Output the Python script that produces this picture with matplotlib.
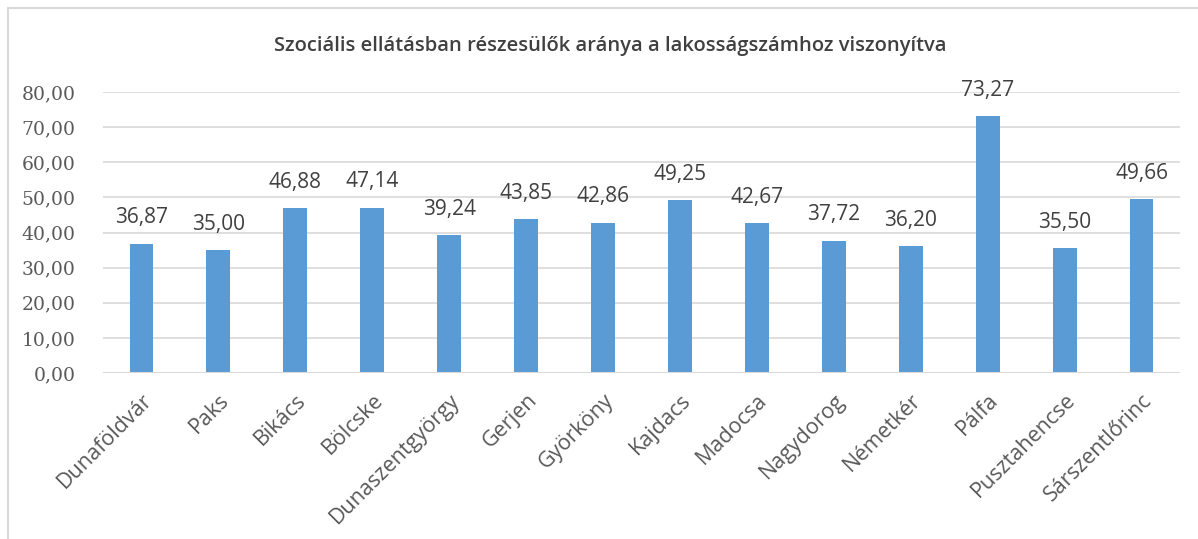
import matplotlib.pyplot as plt
from matplotlib.patches import Rectangle

telepulesek = ['Dunaföldvár', 'Paks', 'Bikács', 'Bölcske', 'Dunaszentgyörgy', 'Gerjen',
               'Györköny', 'Kajdacs', 'Madocsa', 'Nagydorog', 'Németkér', 'Pálfa',
               'Pusztahencse', 'Sárszentlőrinc']
aranyok = [36.87, 35.00, 46.88, 47.14, 39.24, 43.85, 42.86, 49.25, 42.67, 37.72,
           36.20, 73.27, 35.50, 49.66]
y_ticks = [0, 10, 20, 30, 40, 50, 60, 70, 80]

def hu(v):
    return ('%.2f' % v).replace('.', ',')

fig = plt.figure(figsize=(11.98, 5.39), dpi=100)
fig.patches.append(Rectangle((8 / 1198, -0.1), 1.2, (539 - 8) / 539 + 0.1,
                             transform=fig.transFigure, fill=False,
                             edgecolor='#d9d9d9', linewidth=1.5))
ax = fig.add_axes([0.086, 0.308, 0.899, 0.521])

x = range(len(telepulesek))
ax.bar(x, aranyok, width=0.31, color='#5b9bd5', zorder=3)
for i, v in enumerate(aranyok):
    ax.text(i, v + 4.3, hu(v), ha='center', va='bottom', fontsize=15,
            family='Open Sans', color='#404040')

ax.set_xlim(-0.5, len(telepulesek) - 0.5)
ax.set_ylim(0, 80)
ax.set_yticks(y_ticks)
ax.set_yticklabels([hu(t) for t in y_ticks], family='DejaVu Serif', fontsize=13.5,
                   color='#595959')
ax.set_xticks(list(x))
ax.set_xticklabels(telepulesek, rotation=45, ha='right', rotation_mode='anchor',
                   fontsize=15.5, family='Open Sans', color='#595959')
ax.tick_params(axis='y', length=0, pad=20)
ax.tick_params(axis='x', length=0, pad=12)
ax.grid(axis='y', color='#d9d9d9', linewidth=1.2, zorder=0)
for s in ax.spines.values():
    s.set_visible(False)
ax.axhline(0, color='#d9d9d9', linewidth=1.5, zorder=4)

fig.text(0.509, 0.915, 'Szociális ellátásban részesülők aránya a lakosságszámhoz viszonyítva',
         ha='center', va='center', fontsize=14.5, family='Open Sans', color='#404040',
         fontweight='semibold')

fig.savefig('out.png', dpi=100)
